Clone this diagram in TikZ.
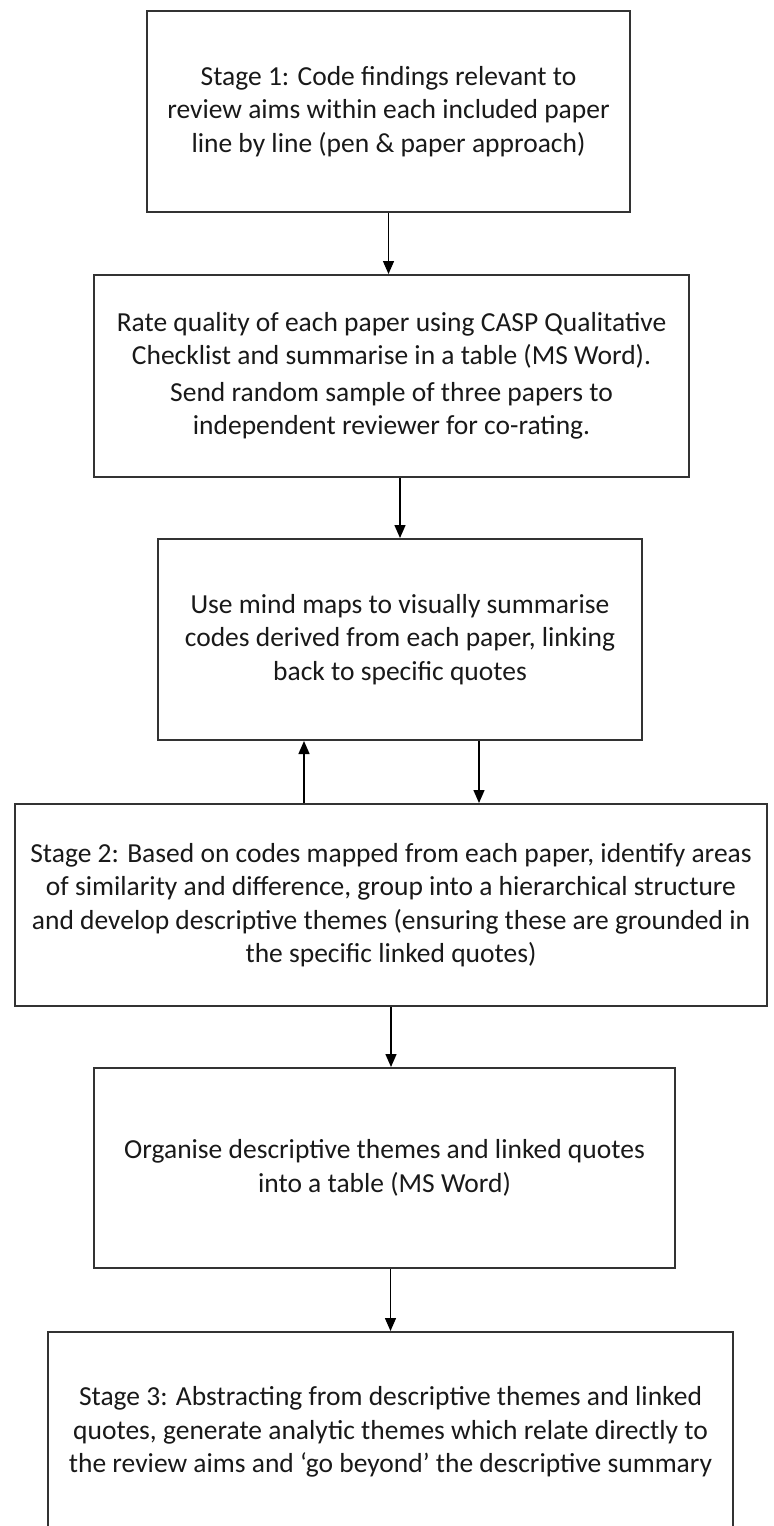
\documentclass[tikz,border=0pt]{standalone}
\usepackage{fontspec}
\setmainfont{Carlito}
\usetikzlibrary{arrows.meta}

\tikzset{
  stagebox/.style={draw=black!80, line width=1pt, rectangle, align=center,
    text=black!90, font=\fontsize{13.75pt}{16.75pt}\selectfont, inner sep=0pt},
  flow/.style={draw=black, line width=0.7pt, -{Triangle[length=6.5pt,width=5.5pt]}}
}

\begin{document}
\begin{tikzpicture}[x=0.5pt, y=-0.5pt]
  % page frame, in pixels (y downwards)
  \useasboundingbox (0,0) rectangle (773,1526);
  \clip (0,0) rectangle (773,1526);

  \node[stagebox, minimum width=241.5pt, minimum height=100.5pt] (s1) at (388.5,111.5)
    {Stage 1: Code findings relevant to\\ review aims within each included paper\\ line by line (pen \& paper approach)};

  \node[stagebox, minimum width=297.5pt, minimum height=101pt] (s2) at (391.5,376)
    {Rate quality of each paper using CASP Qualitative\\ Checklist and summarise in a table (MS Word).\\[1.5pt] Send random sample of three papers to\\ independent reviewer for co-rating.};

  \node[stagebox, minimum width=242pt, minimum height=100.5pt] (s3) at (400,639.5)
    {Use mind maps to visually summarise\\ codes derived from each paper, linking\\ back to specific quotes};

  \node[stagebox, minimum width=376pt, minimum height=101pt] (s4) at (391,905)
    {Stage 2: Based on codes mapped from each paper, identify areas\\ of similarity and difference, group into a hierarchical structure\\ and develop descriptive themes (ensuring these are grounded in\\ the specific linked quotes)};

  \node[stagebox, minimum width=290.5pt, minimum height=100pt] (s5) at (384.5,1168)
    {Organise descriptive themes and linked quotes\\ into a table (MS Word)};

  % last box runs past the lower page edge
  \node[stagebox, minimum width=342.5pt, minimum height=100pt] (s6) at (390.5,1432)
    {Stage 3: Abstracting from descriptive themes and linked\\ quotes, generate analytic themes which relate directly to\\ the review aims and `go beyond' the descriptive summary};

  % connectors
  \coordinate (upx) at (304,0);
  \coordinate (dnx) at (479,0);
  \draw[flow] (s1.south) -- (s1.south |- s2.north);
  \draw[flow] (s3.north |- s2.south) -- (s3.north);
  \draw[flow] (upx |- s4.north) -- (upx |- s3.south);
  \draw[flow] (dnx |- s3.south) -- (dnx |- s4.north);
  \draw[flow] (s4.south) -- (s4.south |- s5.north);
  \draw[flow] (s6.north |- s5.south) -- (s6.north);
\end{tikzpicture}
\end{document}
